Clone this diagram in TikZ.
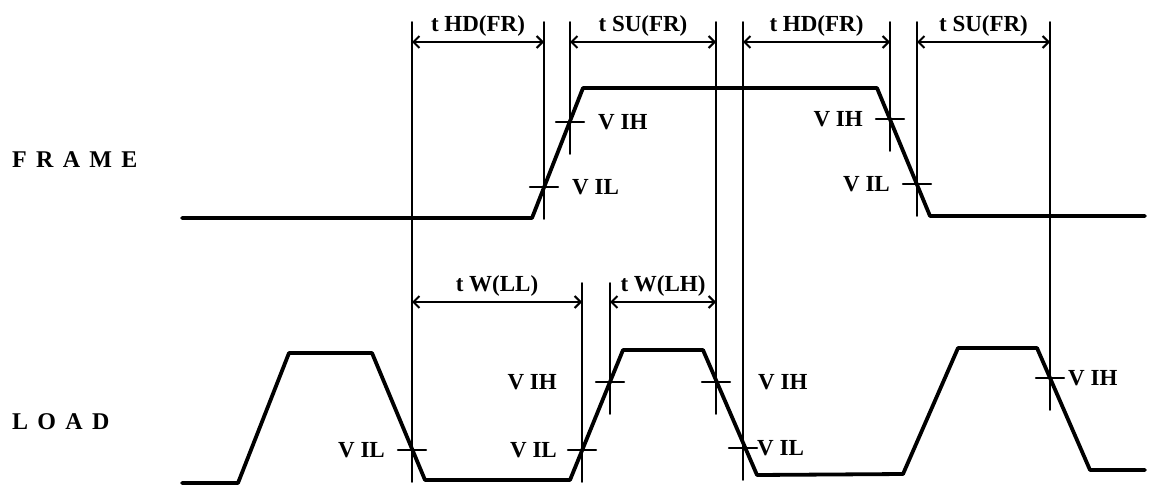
\documentclass[tikz,border=0pt]{standalone}
\usepackage{fontspec}
\setmainfont{Liberation Serif}
\newfontfamily\sigfont[WordSpace=1.55]{Liberation Serif}
\usetikzlibrary{arrows.meta,positioning}

\begin{document}
\begin{tikzpicture}[x=1pt,y=-1pt,line cap=round,line join=round,
    wave/.style={line width=3.8pt},
    ext/.style={line width=1.8pt},
    vtick/.style={line width=2.4pt},
    dimline/.style={line width=2pt,{Straight Barb[length=6pt,width=12pt]}-{Straight Barb[length=6pt,width=12pt]}},
    vlab/.style={font=\fontsize{23}{25}\selectfont\bfseries,inner sep=0pt},
    tlab/.style={font=\fontsize{23}{25}\selectfont\bfseries,inner sep=0pt},
    sigtext/.style={font=\sigfont\fontsize{24}{26}\selectfont\bfseries,inner sep=0pt,anchor=west}]
  \useasboundingbox (0,0) rectangle (1151,490);
  % signal names
  \node[sigtext] (frame) at (12,160) {F R A M E};
  \node[sigtext] (load) at (12,422) {L O A D};

  % waveforms
  \draw[wave] (182,218)--(532,218)--(583,88)--(877,88)--(930,216)--(1145,216);
  \draw[wave] (182,483)--(238,483)--(289,353)--(372,353)--(425,480)--(570,480)--(623,350)--(703,350)
    --(757,475)--(903,474)--(958,348)--(1037,348)--(1090,470)--(1145,470);

  % threshold crossings
  \coordinate (fil1) at (544,187);
  \coordinate (fih1) at (570,122);
  \coordinate (fih2) at (890,119);
  \coordinate (fil2) at (917,184);
  \coordinate (lil1) at (412,450);
  \coordinate (lil2) at (582,450);
  \coordinate (lih2) at (610,382);
  \coordinate (lih3) at (716,382);
  \coordinate (lil3) at (743,448);
  \coordinate (lih4) at (1050,378);
  \coordinate (top) at (0,22);
  \coordinate (wtop) at (0,283);
  \coordinate (arr1) at (0,42);
  \coordinate (arr2) at (0,302);

  \foreach \p in {fil1,fih1,fih2,fil2,lil1,lil2,lih2,lih3,lil3,lih4}
    \draw[vtick] (\p) ++(-14,0) -- ++(28,0);
  \foreach \p/\t in {lil1/top,fil1/top,fih1/top,lih3/top,lil3/top,fih2/top,fil2/top,lih4/top,lil2/wtop,lih2/wtop}
    \draw[ext] (\p |- \t) -- (\p) -- ++(0,32);

  % level labels
  \node[vlab,right=28pt of fih1] (fvih1) {V IH};
  \node[vlab,right=28pt of fil1] (fvil1) {V IL};
  \node[vlab,left=27pt of fih2] (fvih2) {V IH};
  \node[vlab,left=27pt of fil2] (fvil2) {V IL};
  \node[vlab,left=27pt of lil1] (lvil1) {V IL};
  \node[vlab,left=53pt of lih2] (lvih2) {V IH};
  \node[vlab,left=25pt of lil2] (lvil2) {V IL};
  \node[vlab,right=42pt of lih3] (lvih3) {V IH};
  \node[vlab,right=14pt of lil3] (lvil3) {V IL};
  \node[vlab,right=18pt of lih4] (lvih4) {V IH};

  % timing
  \draw[dimline] (lil1 |- arr1) -- node[tlab,above=5pt] {t HD(FR)} (fil1 |- arr1);
  \draw[dimline] (fih1 |- arr1) -- node[tlab,above=5pt] {t SU(FR)} (lih3 |- arr1);
  \draw[dimline] (lil3 |- arr1) -- node[tlab,above=5pt] {t HD(FR)} (fih2 |- arr1);
  \draw[dimline] (fil2 |- arr1) -- node[tlab,above=5pt] {t SU(FR)} (lih4 |- arr1);
  \draw[dimline] (lil1 |- arr2) -- node[tlab,above=5pt] {t W(LL)} (lil2 |- arr2);
  \draw[dimline] (lih2 |- arr2) -- node[tlab,above=5pt] {t W(LH)} (lih3 |- arr2);
\end{tikzpicture}
\end{document}
